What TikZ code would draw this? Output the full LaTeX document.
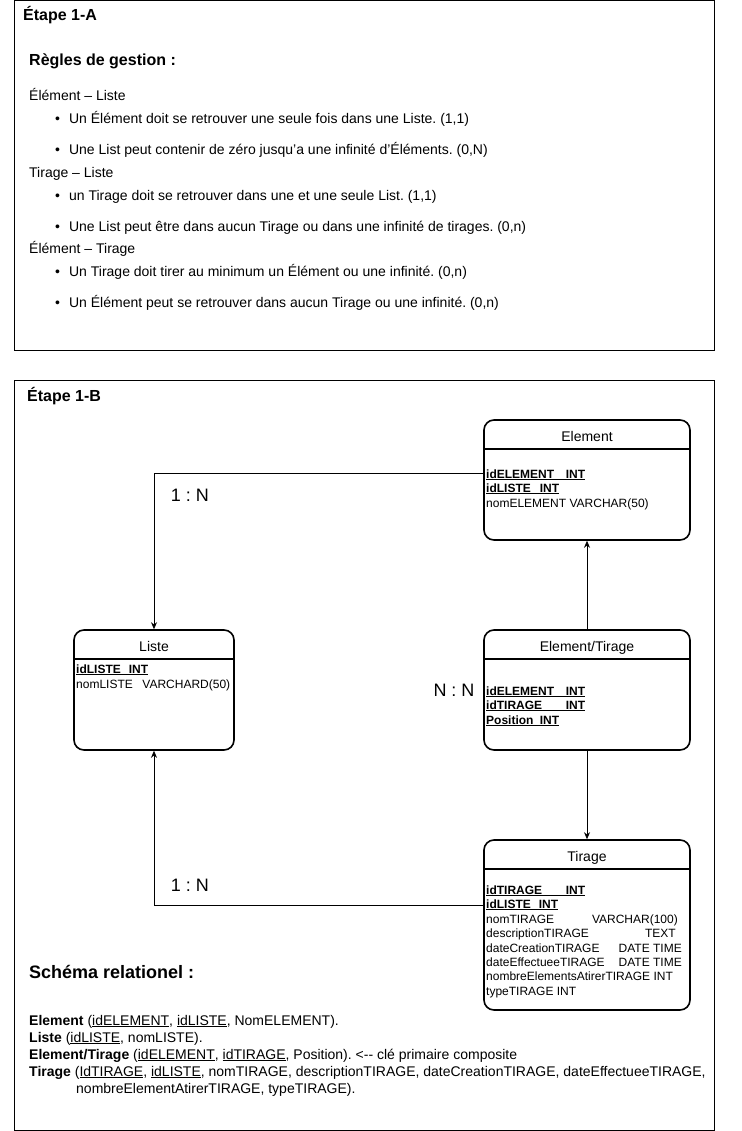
\documentclass[tikz,border=0pt]{standalone}
\usepackage{fontspec}
\setmainfont{Liberation Sans}
\usetikzlibrary{arrows.meta}
\frenchspacing
\newcommand{\pkfield}[3]{\underline{\makebox[#1][l]{\bfseries #2\hfill #3}}}
\newcommand{\fsz}[1]{\fontsize{#1}{#1}\selectfont}
\begin{document}
\begin{tikzpicture}[x=1pt,y=-1pt,
  frame/.style={draw=black,line width=0.9pt},
  txt/.style={anchor=base west,inner sep=0pt,font=\fsz{14}},
  head/.style={anchor=base west,inner sep=0pt,font=\fsz{16}\bfseries},
  bul/.style={anchor=base west,inner sep=0pt,font=\fsz{14}},
  entity/.style={draw=black,line width=1.6pt,rounded corners=10pt,inner sep=0pt},
  etitle/.style={anchor=base,inner sep=0pt,font=\fsz{14}},
  fld/.style={anchor=base west,inner sep=0pt,font=\fsz{12}},
  fldr/.style={anchor=base east,inner sep=0pt,font=\fsz{12}},
  card/.style={anchor=base,inner sep=0pt,font=\fsz{18}},
  conn/.style={draw=black,line width=0.8pt,-{Stealth[length=7pt,width=6pt]}},
  sch/.style={anchor=base west,inner sep=0pt,font=\fsz{14}}
]
\useasboundingbox (0,0) rectangle (741,1131);
\fill[white] (0,0) rectangle (741,1131);

% ---------- Box A ----------
\draw[frame] (14.5,0.5) rectangle (714.5,350.5);
\node[head] (ta) at (23,21) {Étape 1-A};
\node[head] (rg) at (29,66) {Règles de gestion :};
\node[txt] (g1) at (29,101) {Élément – Liste};
\node[bul] (b1) at (55,124) {\textbullet\hspace{9pt}Un Élément doit se retrouver une seule fois dans une Liste. (1,1)};
\node[bul] (b2) at (55,155) {\textbullet\hspace{9pt}Une List peut contenir de zéro jusqu’a une infinité d’Éléments. (0,N)};
\node[txt] (g2) at (29,178) {Tirage – Liste};
\node[bul] (b3) at (55,201) {\textbullet\hspace{9pt}un Tirage doit se retrouver dans une et une seule List. (1,1)};
\node[bul] (b4) at (55,232) {\textbullet\hspace{9pt}Une List peut être dans aucun Tirage ou dans une infinité de tirages. (0,n)};
\node[txt] (g3) at (29,254) {Élément – Tirage};
\node[bul] (b5) at (55,277) {\textbullet\hspace{9pt}Un Tirage doit tirer au minimum un Élément ou une infinité. (0,n)};
\node[bul] (b6) at (55,308) {\textbullet\hspace{9pt}Un Élément peut se retrouver dans aucun Tirage ou une infinité. (0,n)};

% ---------- Box B ----------
\draw[frame] (14.5,380.5) rectangle (714.5,1130.5);
\node[head] (tb) at (27,401) {Étape 1-B};

% Element
\node[entity,minimum width=206pt,minimum height=120pt] (element) at (587,480) {};
\draw[line width=1.6pt] ([yshift=-30pt]element.north west) -- ([yshift=-30pt]element.north east);
\node[etitle] (elt) at (587,441) {Element};
\node[fld] (ef1) at (486,478) {\pkfield{99pt}{idELEMENT}{INT}};
\node[fld] (ef2) at (486,492) {\pkfield{73pt}{idLISTE}{INT}};
\node[fld] (ef3) at (486,507) {nomELEMENT VARCHAR(50)};

% Liste
\node[entity,minimum width=160pt,minimum height=120pt] (liste) at (154,690) {};
\draw[line width=1.6pt] ([yshift=-30pt]liste.north west) -- ([yshift=-30pt]liste.north east);
\node[etitle] (lt) at (154,651) {Liste};
\node[fld] (lf1) at (76,673) {\pkfield{72pt}{idLISTE}{INT}};
\node[fld] (lf2) at (76,688) {nomLISTE\hspace{9.5pt}VARCHARD(50)};

% Element/Tirage
\node[entity,minimum width=206pt,minimum height=120pt] (et) at (587,690) {};
\draw[line width=1.6pt] ([yshift=-30pt]et.north west) -- ([yshift=-30pt]et.north east);
\node[etitle] (ett) at (587,651) {Element/Tirage};
\node[fld] (etf1) at (486,695) {\pkfield{99pt}{idELEMENT}{INT}};
\node[fld] (etf2) at (486,709) {\pkfield{99pt}{idTIRAGE}{INT}};
\node[fld] (etf3) at (486,724) {\pkfield{73pt}{Position}{INT}};

% Tirage
\node[entity,minimum width=206pt,minimum height=170pt] (tirage) at (587,925) {};
\draw[line width=1.6pt] ([yshift=-30pt]tirage.north west) -- ([yshift=-30pt]tirage.north east);
\node[etitle] (tt) at (587,861) {Tirage};
\node[fld] (tf1) at (486,894) {\pkfield{99pt}{idTIRAGE}{INT}};
\node[fld] (tf2) at (486,908) {\pkfield{72pt}{idLISTE}{INT}};
\node[fld] (tf3) at (486,923) {nomTIRAGE};
\node[fldr] (tf3t) at (678,923) {VARCHAR(100)};
\node[fld] (tf4) at (486,937) {descriptionTIRAGE};
\node[fldr] (tf4t) at (676,937) {TEXT};
\node[fld] (tf5) at (486,952) {dateCreationTIRAGE};
\node[fldr] (tf5t) at (682,952) {DATE TIME};
\node[fld] (tf6) at (486,966) {dateEffectueeTIRAGE};
\node[fldr] (tf6t) at (682,966) {DATE TIME};
\node[fld] (tf7) at (486,980) {nombreElementsAtirerTIRAGE INT};
\node[fld] (tf8) at (486,995) {typeTIRAGE INT};

% connectors
\draw[conn] ([yshift=7pt]element.west) -| (liste.north);
\draw[conn] (et.north) -- (element.south);
\draw[conn] (et.south) -- (tirage.north);
\draw[conn] ([yshift=20pt]tirage.west) -| (liste.south);

\node[card] (c1) at (190,501.5) {1 : N};
\node[card] (c2) at (454,696) {N : N};
\node[card] (c3) at (190,891) {1 : N};

% Schema relationnel
\node[anchor=base west,inner sep=0pt,font=\fsz{18}\bfseries] (sr) at (29,978) {Schéma relationel :};
\node[sch] (s1) at (29,1025) {\textbf{Element} (\underline{idELEMENT}, \underline{idLISTE}, NomELEMENT).};
\node[sch] (s2) at (29,1042) {\textbf{Liste} (\underline{idLISTE}, nomLISTE).};
\node[sch] (s3) at (29,1059) {\textbf{Element/Tirage} (\underline{idELEMENT}, \underline{idTIRAGE}, Position). <-{}- clé primaire composite};
\node[sch] (s4) at (29,1076) {\textbf{Tirage} (\underline{IdTIRAGE}, \underline{idLISTE}, nomTIRAGE, descriptionTIRAGE, dateCreationTIRAGE, dateEffectueeTIRAGE,};
\node[sch] (s5) at (76,1093) {nombreElementAtirerTIRAGE, typeTIRAGE).};
\end{tikzpicture}
\end{document}
